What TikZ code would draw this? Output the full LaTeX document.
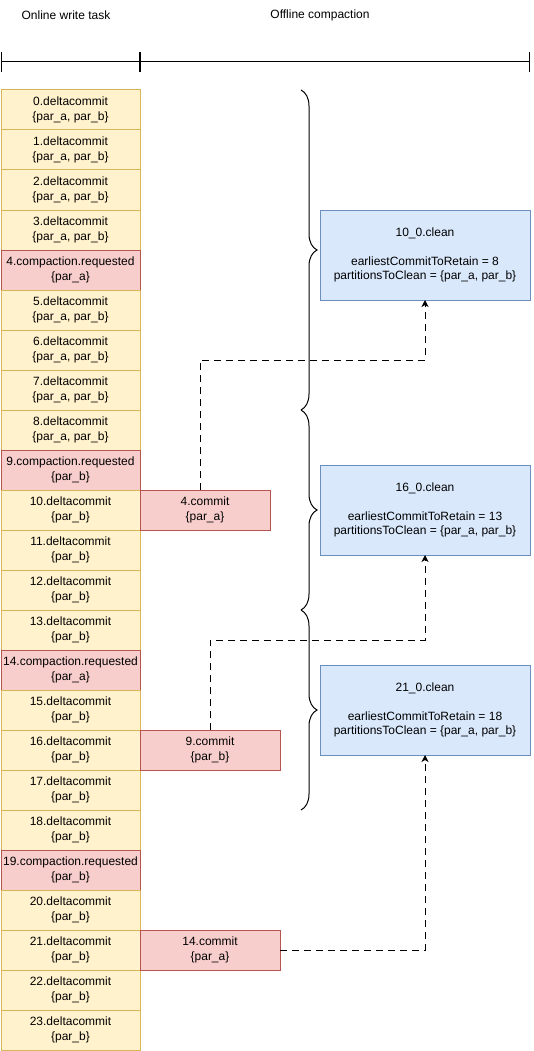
\documentclass[tikz,border=0pt]{standalone}
\usepackage{fontspec}
\setmainfont{Liberation Sans}
\usepackage{xcolor}
\usepackage{tikz}
\usetikzlibrary{arrows.meta,positioning,decorations.pathreplacing}
\definecolor{rowfill}{HTML}{FFF2CC}
\definecolor{rowline}{HTML}{D6B656}
\definecolor{reqfill}{HTML}{F8CECC}
\definecolor{reqline}{HTML}{B85450}
\definecolor{cleanfill}{HTML}{DAE8FC}
\definecolor{cleanline}{HTML}{6C8EBF}

\begin{document}
\begin{tikzpicture}[
  x=1pt, y=-1pt,
  every node/.style={font=\fontsize{12}{14.5}\selectfont, inner sep=0pt, outer sep=0pt},
  row/.style={draw=rowline, fill=rowfill, line width=1pt, minimum width=139pt, minimum height=40pt, align=center},
  reqrow/.style={row, draw=reqline, fill=reqfill},
  commitbox/.style={reqrow, minimum width=140pt},
  cleanbox/.style={draw=cleanline, fill=cleanfill, line width=1pt, minimum width=210pt, minimum height=90pt, align=center},
  dasharr/.style={-{Stealth[length=7pt, width=7pt, inset=2pt]}, line width=1pt, dash pattern=on 7pt off 5pt},
  grp/.style={decorate, decoration={brace, amplitude=16pt}, line width=1pt},
  tick/.style={{Bar[width=20pt]}-{Bar[width=20pt]}, line width=1pt},
  node distance=0pt
]
  \useasboundingbox (0,0) rectangle (534,1051);

  % headers and time axis
  \node (online) at (66,15) {Online write task};
  \node (offline) at (320,15) {Offline compaction};
  \coordinate (t0) at (1,62);
  \coordinate (t1) at (140,62);
  \coordinate (t2) at (530,62);
  \draw[tick] (t0) -- (t1);
  \draw[tick] (t1) -- (t2);

  % online timeline
  \node[row] (r0) at (70.5,110) {0.deltacommit\\\{par\_a, par\_b\}};
  \node[row, below=of r0] (r1) {1.deltacommit\\\{par\_a, par\_b\}};
  \node[row, below=of r1] (r2) {2.deltacommit\\\{par\_a, par\_b\}};
  \node[row, below=of r2] (r3) {3.deltacommit\\\{par\_a, par\_b\}};
  \node[reqrow, below=of r3] (r4) {4.compaction.requested\\\{par\_a\}};
  \node[row, below=of r4] (r5) {5.deltacommit\\\{par\_a, par\_b\}};
  \node[row, below=of r5] (r6) {6.deltacommit\\\{par\_a, par\_b\}};
  \node[row, below=of r6] (r7) {7.deltacommit\\\{par\_a, par\_b\}};
  \node[row, below=of r7] (r8) {8.deltacommit\\\{par\_a, par\_b\}};
  \node[reqrow, below=of r8] (r9) {9.compaction.requested\\\{par\_b\}};
  \node[row, below=of r9] (r10) {10.deltacommit\\\{par\_b\}};
  \node[row, below=of r10] (r11) {11.deltacommit\\\{par\_b\}};
  \node[row, below=of r11] (r12) {12.deltacommit\\\{par\_b\}};
  \node[row, below=of r12] (r13) {13.deltacommit\\\{par\_b\}};
  \node[reqrow, below=of r13] (r14) {14.compaction.requested\\\{par\_a\}};
  \node[row, below=of r14] (r15) {15.deltacommit\\\{par\_b\}};
  \node[row, below=of r15] (r16) {16.deltacommit\\\{par\_b\}};
  \node[row, below=of r16] (r17) {17.deltacommit\\\{par\_b\}};
  \node[row, below=of r17] (r18) {18.deltacommit\\\{par\_b\}};
  \node[reqrow, below=of r18] (r19) {19.compaction.requested\\\{par\_b\}};
  \node[row, below=of r19] (r20) {20.deltacommit\\\{par\_b\}};
  \node[row, below=of r20] (r21) {21.deltacommit\\\{par\_b\}};
  \node[row, below=of r21] (r22) {22.deltacommit\\\{par\_b\}};
  \node[row, below=of r22] (r23) {23.deltacommit\\\{par\_b\}};

  % compaction commits
  \node[commitbox, minimum width=130pt, right=of r10] (c4) {4.commit\\\{par\_a\}};
  \node[commitbox, right=of r16] (c9) {9.commit\\\{par\_b\}};
  \node[commitbox, right=of r21] (c14) {14.commit\\\{par\_a\}};

  % offline cleans
  \node[cleanbox] (clean10) at (425,255) {10\_0.clean\\[14.5pt]earliestCommitToRetain = 8\\partitionsToClean = \{par\_a, par\_b\}};
  \node[cleanbox] (clean16) at (425,510) {16\_0.clean\\[14.5pt]earliestCommitToRetain = 13\\partitionsToClean = \{par\_a, par\_b\}};
  \node[cleanbox] (clean21) at (425,710) {21\_0.clean\\[14.5pt]earliestCommitToRetain = 18\\partitionsToClean = \{par\_a, par\_b\}};

  \draw[grp] ([xshift=161pt]r0.north east) -- ([xshift=161pt]r7.south east);
  \draw[grp] ([xshift=161pt]r8.north east) -- ([xshift=161pt]r12.south east);
  \draw[grp] ([xshift=161pt]r13.north east) -- ([xshift=161pt]r17.south east);

  \draw[dasharr] ([xshift=-5pt]c4.north) -- ++(0,-130) -| (clean10.south);
  \draw[dasharr] (c9.north) -- ++(0,-90) -| (clean16.south);
  \draw[dasharr] (c14.east) -| (clean21.south);
\end{tikzpicture}
\end{document}
